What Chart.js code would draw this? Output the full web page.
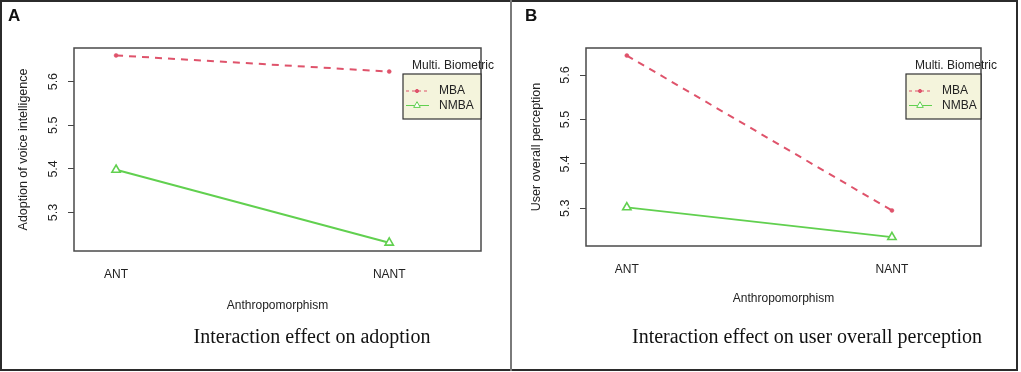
<!DOCTYPE html>
<html>
<head>
<meta charset="utf-8">
<script src="https://cdn.jsdelivr.net/npm/chart.js@4.4.0/dist/chart.umd.min.js"></script>
<style>
  body { margin: 0; background: #fff; }
  #wrap { position: relative; width: 1021px; height: 372px; }
  #frame { position: absolute; left: 0; top: 0; width: 1018px; height: 371px; box-sizing: border-box; border: 2px solid #2b2b2b; }
  #divider { position: absolute; left: 510px; top: 0; width: 2px; height: 371px; background: #7a7a7a; }
  canvas { position: absolute; top: 0; }
  #chartA { left: 0; }
  #chartB { left: 510px; }
</style>
</head>
<body>
<div id="wrap">
  <canvas id="chartA" width="510" height="372"></canvas>
  <canvas id="chartB" width="510" height="372"></canvas>
  <div id="frame"></div>
  <div id="divider"></div>
</div>
<script>
// factor levels and groups
const groups = ["ANT", "NANT"];
const seriesNames = ["MBA", "NMBA"];
const yTicks = [5.3, 5.4, 5.5, 5.6];

// panel A: adoption of voice intelligence
const adoptMBA = [5.660, 5.623];
const adoptNMBA = [5.398, 5.231];
// panel B: user overall perception
const perceptMBA = [5.644, 5.295];
const perceptNMBA = [5.302, 5.235];

const RED = "#DF536B";
const GREEN = "#61D04F";
const FONT = "'Liberation Sans', Arial, sans-serif";

// R style box, legend, caption and panel letter
const rDecor = {
  id: "rDecor",
  beforeDatasetsDraw(chart, args, o) {
    const a = chart.chartArea;
    const ctx = chart.ctx;
    ctx.save();
    ctx.strokeStyle = "#4a4a4a";
    ctx.lineWidth = 1.5;
    ctx.strokeRect(a.left, a.top, a.right - a.left, a.bottom - a.top);
    ctx.restore();
  },
  afterDraw(chart, args, o) {
    const a = chart.chartArea;
    const ctx = chart.ctx;
    ctx.save();
    // legend
    const bw = o.legW, bh = 45;
    const bx = a.right - bw, by = a.top + 26;
    ctx.fillStyle = "#f4f4dc";
    ctx.fillRect(bx, by, bw, bh);
    ctx.strokeStyle = "#333";
    ctx.lineWidth = 1.2;
    ctx.strokeRect(bx, by, bw, bh);
    ctx.fillStyle = "#222";
    ctx.font = "12px " + FONT;
    ctx.textBaseline = "middle";
    ctx.textAlign = "left";
    ctx.fillText("Multi. Biometric", bx + 9, by - 8);
    chart.data.datasets.forEach((ds, i) => {
      const y = by + 17 + i * 14.5;
      ctx.strokeStyle = ds.borderColor;
      ctx.lineWidth = 1;
      ctx.setLineDash(ds.borderDash ? [3, 3] : []);
      ctx.beginPath();
      ctx.moveTo(bx + 3, y);
      ctx.lineTo(bx + 26, y);
      ctx.stroke();
      ctx.setLineDash([]);
      ctx.fillStyle = ds.pointBackgroundColor;
      ctx.strokeStyle = ds.pointBorderColor;
      Chart.helpers.drawPoint(ctx, {
        pointStyle: ds.pointStyle,
        radius: ds.pointStyle === "triangle" ? 3.8 : 1.6,
        borderWidth: 1
      }, bx + 14, y);
      ctx.fillStyle = "#222";
      ctx.fillText(ds.label, bx + 36, y);
    });
    // caption
    ctx.font = "20px 'Liberation Serif', 'Times New Roman', serif";
    ctx.textAlign = "center";
    ctx.fillStyle = "#111";
    ctx.fillText(o.caption, o.capX, 338);
    // panel letter
    ctx.font = "bold 17px " + FONT;
    ctx.textAlign = "left";
    ctx.fillText(o.letter, o.letX, 16);
    ctx.restore();
  }
};

function makePanel(id, p) {
  const toPts = vals => vals.map((v, i) => ({ x: i + 1, y: v }));
  new Chart(document.getElementById(id), {
    type: "line",
    data: {
      datasets: [
        {
          label: seriesNames[0],
          data: toPts(p.mba),
          borderColor: RED,
          backgroundColor: RED,
          borderWidth: 2,
          borderDash: [7, 6],
          pointStyle: "circle",
          pointRadius: 2,
          pointBorderWidth: 0.5,
          pointBackgroundColor: RED,
          pointBorderColor: RED,
          tension: 0
        },
        {
          label: seriesNames[1],
          data: toPts(p.nmba),
          borderColor: GREEN,
          backgroundColor: "#fff",
          borderWidth: 2,
          pointStyle: "triangle",
          pointRadius: 4.8,
          pointBorderWidth: 1.6,
          pointBackgroundColor: "#fff",
          pointBorderColor: GREEN,
          tension: 0
        }
      ]
    },
    options: {
      responsive: false,
      animation: false,
      layout: { padding: { left: 0, top: 48, right: p.padRight, bottom: 0 } },
      plugins: {
        legend: { display: false },
        tooltip: { enabled: false },
        rDecor: { caption: p.caption, capX: p.capX, letter: p.letter, letX: p.letX, legW: p.legW }
      },
      scales: {
        x: {
          type: "linear",
          min: 0.846,
          max: 2.336,
          afterBuildTicks: s => { s.ticks = groups.map((g, i) => ({ value: i + 1 })); },
          afterFit: s => { s.height = p.xAxisH; },
          ticks: {
            padding: p.xTickPad,
            color: "#222",
            font: { family: FONT, size: 12 },
            callback: v => groups[v - 1]
          },
          grid: { display: false },
          border: { display: false },
          title: {
            display: true,
            text: "Anthropomorphism",
            color: "#222",
            font: { family: FONT, size: 12 },
            padding: { top: 0, bottom: p.xTitlePad }
          }
        },
        y: {
          min: p.yMin,
          max: p.yMax,
          afterBuildTicks: s => { s.ticks = yTicks.map(v => ({ value: v })); },
          afterFit: s => { s.width = p.yAxisW; },
          ticks: {
            minRotation: 90,
            maxRotation: 90,
            crossAlign: "center",
            padding: 6,
            color: "#222",
            font: { family: FONT, size: 12.5 },
            callback: v => v.toFixed(1)
          },
          grid: { drawOnChartArea: false, drawTicks: true, tickLength: 6, color: "#444", lineWidth: 1 },
          border: { display: false },
          title: {
            display: true,
            text: p.yTitle,
            color: "#222",
            font: { family: FONT, size: 12.5 },
            padding: { top: p.yTitlePad, bottom: 0 }
          }
        }
      }
    },
    plugins: [rDecor]
  });
}

makePanel("chartA", {
  mba: adoptMBA, nmba: adoptNMBA,
  yMin: 5.212, yMax: 5.677,
  yTitle: "Adoption of voice intelligence",
  padRight: 29, yAxisW: 74, xAxisH: 121,
  xTickPad: 8, xTitlePad: 59, yTitlePad: 16,
  caption: "Interaction effect on adoption", capX: 312,
  letter: "A", letX: 8, legW: 78
});

makePanel("chartB", {
  mba: perceptMBA, nmba: perceptNMBA,
  yMin: 5.215, yMax: 5.661,
  yTitle: "User overall perception",
  padRight: 39, yAxisW: 76, xAxisH: 126,
  xTickPad: 8, xTitlePad: 66, yTitlePad: 19,
  caption: "Interaction effect on user overall perception", capX: 297,
  letter: "B", letX: 15, legW: 75
});
</script>
</body>
</html>
